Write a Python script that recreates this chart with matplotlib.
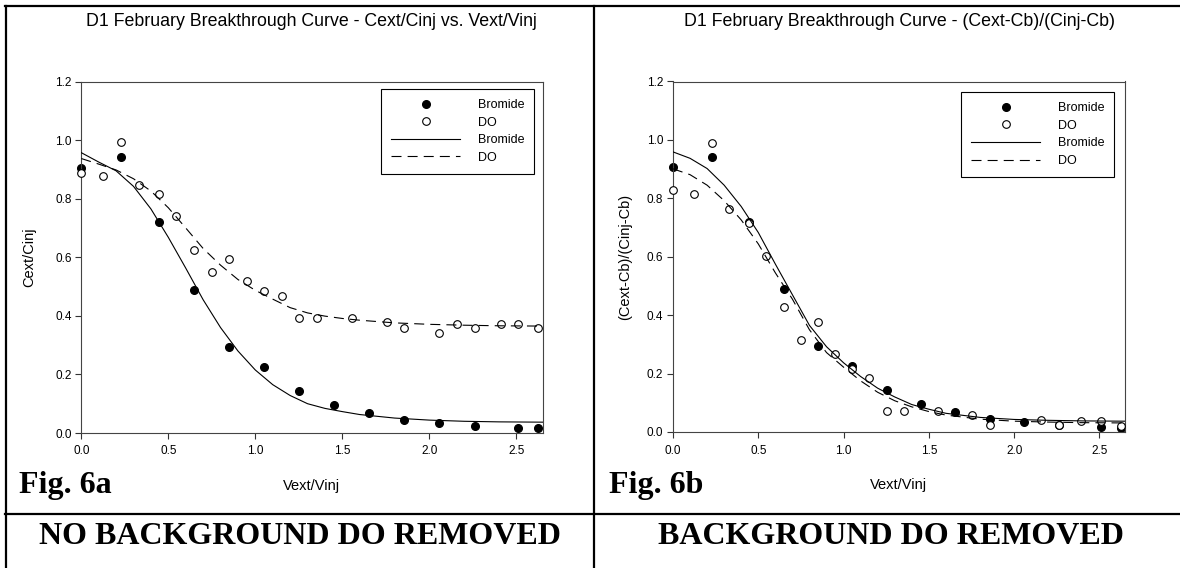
import matplotlib
matplotlib.use("Agg")
import matplotlib.pyplot as plt
from matplotlib.lines import Line2D

plt.rcParams['font.family'] = ['Liberation Sans', 'DejaVu Sans']

# ---- data ----
# Fig. 6a : Cext/Cinj
a_br_x = [0, 0.227, 0.445, 0.648, 0.851, 1.052, 1.253, 1.454, 1.653, 1.856, 2.057, 2.264, 2.51, 2.625]
a_br_y = [0.906, 0.943, 0.719, 0.488, 0.295, 0.224, 0.143, 0.094, 0.067, 0.044, 0.033, 0.025, 0.018, 0.016]
a_do_x = [0, 0.125, 0.227, 0.33, 0.445, 0.545, 0.648, 0.749, 0.851, 0.95, 1.052, 1.152, 1.253,
          1.353, 1.554, 1.755, 1.856, 2.057, 2.157, 2.264, 2.41, 2.51, 2.625]
a_do_y = [0.889, 0.879, 0.993, 0.846, 0.816, 0.74, 0.626, 0.549, 0.594, 0.518, 0.486, 0.468, 0.391,
          0.391, 0.391, 0.38, 0.359, 0.34, 0.371, 0.359, 0.371, 0.371, 0.36]

# fitted curves
fit_x = [0, 0.1, 0.2, 0.3, 0.4, 0.5, 0.6, 0.7, 0.8, 0.9, 1.0, 1.1, 1.2, 1.3, 1.4, 1.5, 1.6,
         1.8, 2.0, 2.2, 2.4, 2.65]
a_br_fit = [0.957, 0.925, 0.895, 0.842, 0.765, 0.668, 0.563, 0.455, 0.36, 0.28, 0.215, 0.165,
            0.128, 0.1, 0.084, 0.073, 0.063, 0.051, 0.044, 0.04, 0.038, 0.037]
a_do_fit = [0.937, 0.918, 0.898, 0.868, 0.826, 0.769, 0.700, 0.630, 0.573, 0.524, 0.487, 0.457,
            0.428, 0.41, 0.399, 0.391, 0.385, 0.376, 0.371, 0.368, 0.366, 0.365]

# Fig. 6b : (Cext-Cb)/(Cinj-Cb)
b_br_x = [0, 0.227, 0.445, 0.648, 0.851, 1.052, 1.253, 1.454, 1.653, 1.856, 2.057, 2.264, 2.51, 2.625]
b_br_y = [0.906, 0.943, 0.719, 0.489, 0.295, 0.226, 0.144, 0.095, 0.068, 0.046, 0.034, 0.025, 0.017, 0.013]
b_do_x = [0, 0.125, 0.227, 0.33, 0.445, 0.545, 0.648, 0.749, 0.851, 0.95, 1.052, 1.152, 1.253,
          1.353, 1.554, 1.755, 1.856, 2.157, 2.264, 2.39, 2.51, 2.625]
b_do_y = [0.83, 0.815, 0.991, 0.765, 0.717, 0.603, 0.427, 0.315, 0.378, 0.266, 0.217, 0.186, 0.073,
          0.073, 0.073, 0.057, 0.024, 0.04, 0.024, 0.039, 0.039, 0.022]
b_br_fit = [0.959, 0.937, 0.902, 0.845, 0.772, 0.683, 0.575, 0.47, 0.365, 0.292, 0.237, 0.19, 0.15,
            0.12, 0.094, 0.078, 0.064, 0.05, 0.043, 0.04, 0.038, 0.037]
b_do_fit = [0.901, 0.881, 0.845, 0.792, 0.726, 0.644, 0.545, 0.455, 0.35, 0.272, 0.222, 0.175,
            0.136, 0.107, 0.086, 0.07, 0.058, 0.044, 0.037, 0.034, 0.032, 0.031]

y_ticks = [0.0, 0.2, 0.4, 0.6, 0.8, 1.0, 1.2]
x_ticks = [0.0, 0.5, 1.0, 1.5, 2.0, 2.5]

W, H = 1180, 568
fig = plt.figure(figsize=(W / 100, H / 100), dpi=100)
fig.patch.set_facecolor('white')


def px(x0, y0, w, h):
    # pixel box (top-left origin) -> figure fraction
    return [x0 / W, 1 - (y0 + h) / H, w / W, h / H]


dash = (0, (9, 5.5))
ms = 5.5


def panel(rect, br_x, br_y, do_x, do_y, br_fit, do_fit, title, ylabel, leg_anchor, ylab_x):
    ax = fig.add_axes(px(*rect))
    ax.plot(fit_x, br_fit, color='black', lw=0.8, zorder=4)
    ax.plot(fit_x, do_fit, color='black', lw=0.8, linestyle=dash, zorder=4)
    ax.plot(br_x, br_y, 'o', color='black', ms=ms, zorder=2, clip_on=False)
    ax.plot(do_x, do_y, 'o', mfc='white', mec='black', mew=0.8, ms=ms, zorder=3, clip_on=False)
    ax.set_xlim(0, 2.65)
    ax.set_ylim(0, 1.2)
    ax.set_xticks(x_ticks)
    ax.set_yticks(y_ticks)
    ax.set_xticklabels(['%.1f' % v for v in x_ticks])
    ax.set_yticklabels(['%.1f' % v for v in y_ticks])
    ax.tick_params(direction='out', length=4, width=0.8, labelsize=8.5, color='#333333')
    ax.tick_params(axis='x', pad=5)
    ax.tick_params(axis='y', pad=3)
    for s in ax.spines.values():
        s.set_linewidth(0.8)
        s.set_color('#444444')
    ax.set_xlabel('Vext/Vinj', fontsize=10.5)
    ax.set_ylabel(ylabel, fontsize=10.5)
    ax.xaxis.set_label_coords(0.5, -0.13)
    ax.yaxis.set_label_coords(ylab_x, 0.5)
    handles = [
        Line2D([], [], marker='o', color='black', ls='none', ms=ms),
        Line2D([], [], marker='o', mfc='white', mec='black', mew=0.8, ls='none', ms=ms),
        Line2D([], [], color='black', lw=0.8),
        Line2D([], [], color='black', lw=0.8, linestyle=dash),
    ]
    leg = ax.legend(handles, ['Bromide', 'DO', 'Bromide', 'DO'], loc='upper right',
                    bbox_to_anchor=leg_anchor, borderaxespad=0, fontsize=9,
                    fancybox=False, framealpha=1, edgecolor='black',
                    handlelength=5.5, handletextpad=1.4, labelspacing=0.45,
                    borderpad=0.8)
    leg.get_frame().set_linewidth(0.8)
    cx = (rect[0] + rect[2] / 2) / W
    fig.text(cx, 1 - 21 / H, title, ha='center', va='center', fontsize=12.8)
    return ax


panel((81.3, 81.5, 461.2, 351.5), a_br_x, a_br_y, a_do_x, a_do_y, a_br_fit, a_do_fit,
      'D1 February Breakthrough Curve - Cext/Cinj vs. Vext/Vinj', 'Cext/Cinj',
      (0.982, 0.979), -0.098)
panel((673, 81.5, 452, 350.5), b_br_x, b_br_y, b_do_x, b_do_y, b_br_fit, b_do_fit,
      'D1 February Breakthrough Curve - (Cext-Cb)/(Cinj-Cb)', '(Cext-Cb)/(Cinj-Cb)',
      (0.976, 0.970), -0.091)

serif = ['Liberation Serif', 'DejaVu Serif']
fig.text(19 / W, 1 - 486 / H, 'Fig. 6a', family=serif, weight='bold', fontsize=23,
         ha='left', va='center')
fig.text(609 / W, 1 - 486 / H, 'Fig. 6b', family=serif, weight='bold', fontsize=23,
         ha='left', va='center')
fig.text(300 / W, 1 - 536 / H, 'NO BACKGROUND DO REMOVED', family=serif, weight='bold',
         fontsize=23, ha='center', va='center')
fig.text(891 / W, 1 - 536 / H, 'BACKGROUND DO REMOVED', family=serif, weight='bold',
         fontsize=23, ha='center', va='center')

# table rules
rule = dict(color='black', lw=1.6, transform=fig.transFigure)
fig.add_artist(Line2D([5 / W, 1], [1 - 5.5 / H, 1 - 5.5 / H], **rule))
fig.add_artist(Line2D([6 / W, 6 / W], [0, 1 - 5.5 / H], **rule))
fig.add_artist(Line2D([594 / W, 594 / W], [0, 1 - 5.5 / H], **rule))
fig.add_artist(Line2D([5 / W, 1], [1 - 514 / H, 1 - 514 / H], **rule))

fig.savefig('out.png', dpi=100)
